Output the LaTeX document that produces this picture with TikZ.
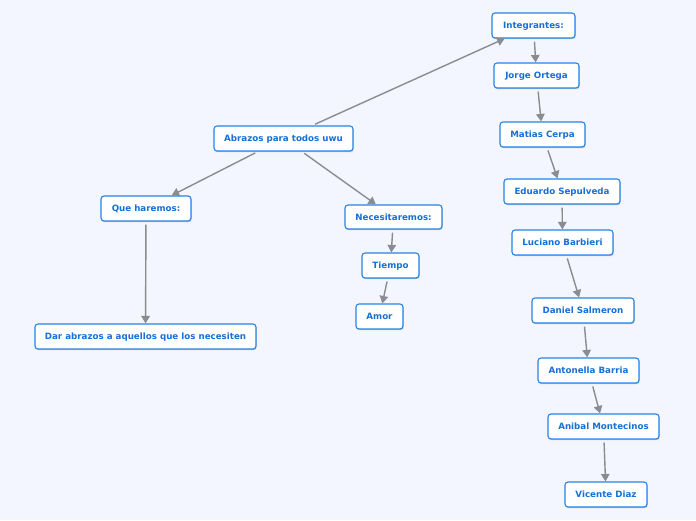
\documentclass[tikz,border=0pt]{standalone}
\usepackage{fontspec}
\setmainfont{DejaVu Sans}
\usetikzlibrary{arrows.meta,shadows}
\definecolor{bgc}{HTML}{F3F6FE}
\definecolor{boxline}{HTML}{2484E6}
\definecolor{boxtext}{HTML}{1670D6}
\definecolor{conn}{HTML}{8A8C90}
\begin{document}
\begin{tikzpicture}[x=1pt,y=-1pt,
  box/.style={draw=boxline, line width=1.1pt, fill=white, rounded corners=3pt,
    minimum height=25pt, inner sep=0pt, text=boxtext, text height=6.3pt, text depth=0pt,
    font=\fontsize{8.7}{10}\selectfont\bfseries,
    drop shadow={shadow xshift=0.6pt, shadow yshift=-1.2pt, fill=black!35, opacity=0.6}},
  link/.style={draw=conn, line width=1.4pt, shorten <=3pt,
    -{Triangle[length=7.5pt,width=8.5pt]}}]
\fill[bgc] (0,0) rectangle (696,520);
\useasboundingbox (0,0) rectangle (696,520);
\node[box, minimum width=83pt]  (int) at (533.5,25.5) {Integrantes:};
\node[box, minimum width=85pt]  (jor) at (536.5,75.5) {Jorge Ortega};
\node[box, minimum width=85pt]  (mat) at (542.5,134.5) {Matias Cerpa};
\node[box, minimum width=116pt] (edu) at (562,191.5) {Eduardo Sepulveda};
\node[box, minimum width=101pt] (luc) at (562.5,242.5) {Luciano Barbieri};
\node[box, minimum width=102pt] (dan) at (583,310.5) {Daniel Salmeron};
\node[box, minimum width=101pt] (ant) at (588.5,370.5) {Antonella Barria};
\node[box, minimum width=111pt] (ani) at (603.5,426.5) {Anibal Montecinos};
\node[box, minimum width=82pt]  (vic) at (606,494.5) {Vicente Diaz};
\node[box, minimum width=139pt] (abr) at (283.5,138.5) {Abrazos para todos uwu};
\node[box, minimum width=90pt]  (que) at (146,208.5) {Que haremos:};
\node[box, minimum width=221pt] (dar) at (145.5,336.5) {Dar abrazos a aquellos que los necesiten};
\node[box, minimum width=97pt, minimum height=24pt] (nec) at (393.5,217) {Necesitaremos:};
\node[box, minimum width=57pt]  (tie) at (390.5,265.5) {Tiempo};
\node[box, minimum width=47pt]  (amo) at (379.5,316.5) {Amor};
\draw[link] (abr) -- (int);
\draw[link] (abr) -- (que);
\draw[link] (abr) -- (nec);
\draw[link] (que) -- (dar);
\draw[link] (nec) -- (tie);
\draw[link] (tie) -- (amo);
\draw[link] (int) -- (jor);
\draw[link] (jor) -- (mat);
\draw[link] (mat) -- (edu);
\draw[link] (edu) -- (luc);
\draw[link] (luc) -- (dan);
\draw[link] (dan) -- (ant);
\draw[link] (ant) -- (ani);
\draw[link] (ani) -- (vic);
\end{tikzpicture}
\end{document}
